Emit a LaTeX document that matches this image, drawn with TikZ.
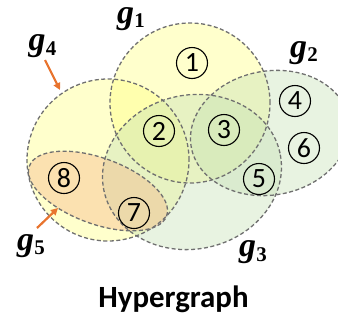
\documentclass[tikz,border=0pt]{standalone}
\usepackage{fontspec}
\newfontfamily\digitfont{Carlito}
\newfontfamily\labelserif{Liberation Serif}
\usetikzlibrary{arrows.meta}

\definecolor{edgegray}{HTML}{707070}
\definecolor{hyperyellow}{HTML}{FFFF80}
\definecolor{hypergreen}{HTML}{C5E0B4}
\definecolor{hyperorange}{HTML}{F4B183}
\definecolor{pointer}{HTML}{E8742E}

% hyperedge name: bold italic g with a bold lowered index
\newcommand{\edgename}[1]{{\labelserif\bfseries\itshape\fontsize{34}{36}\selectfont g}\kern0.5bp\raisebox{-4.5bp}{\labelserif\bfseries\fontsize{21}{22}\selectfont #1}}

\tikzset{
  edgefill/.style={fill=#1, fill opacity=0.4, draw=none},
  edgeline/.style={draw=edgegray, line width=1.3bp, dash pattern=on 4bp off 2.5bp},
  vertex/.style={circle, draw=black, line width=1.1bp, minimum size=31bp, inner sep=0pt,
    font=\digitfont\fontsize{28}{28}\selectfont},
  glabel/.style={inner sep=0pt},
  pointerarrow/.style={draw=pointer, line width=2.2bp, -{Triangle[length=7bp,width=7bp]}},
  titletext/.style={font=\digitfont\bfseries\fontsize{31}{36}\selectfont, inner sep=0pt}
}

\begin{document}
\begin{tikzpicture}[x=1bp,y=-1bp]
\useasboundingbox (0,0) rectangle (338,320);

\begin{scope}
  \clip (0,0) rectangle (338,320);
  % translucent fills of the five hyperedges
  \fill[edgefill=hyperyellow] (108,160) circle [radius=81bp];
  \fill[edgefill=hyperyellow] (190,103) circle [radius=80bp];
  \fill[edgefill=hypergreen, rotate around={10:(270,133)}] (270,133) ellipse [x radius=80bp, y radius=62bp];
  \fill[edgefill=hypergreen, rotate around={12:(192,172)}] (192,172) ellipse [x radius=90bp, y radius=77bp];
  \fill[edgefill=hyperorange, fill opacity=0.38, rotate around={-20:(98,191)}] (98,191) ellipse [x radius=73bp, y radius=33bp];
  % dashed outlines on top
  \draw[edgeline] (108,160) circle [radius=81bp];
  \draw[edgeline] (190,103) circle [radius=80bp];
  \draw[edgeline, rotate around={10:(270,133)}] (270,133) ellipse [x radius=80bp, y radius=62bp];
  \draw[edgeline, rotate around={12:(192,172)}] (192,172) ellipse [x radius=90bp, y radius=77bp];
  \draw[edgeline, rotate around={-20:(98,191)}] (98,191) ellipse [x radius=73bp, y radius=33bp];
\end{scope}

% vertices
\node[vertex] (v1) at (192,63) {1};
\node[vertex] (v2) at (159,131) {2};
\node[vertex] (v3) at (224,130) {3};
\node[vertex] (v4) at (295,101) {4};
\node[vertex] (v5) at (259,179) {5};
\node[vertex] (v6) at (304,148) {6};
\node[vertex] (v7) at (134,213) {7};
\node[vertex] (v8) at (64,178) {8};

% hyperedge labels
\node[glabel] (g1) at (131,19) {\edgename{1}};
\node[glabel] (g2) at (304,53) {\edgename{2}};
\node[glabel] (g3) at (253,252.5) {\edgename{3}};
\node[glabel] (g4) at (42.5,46.5) {\edgename{4}};
\node[glabel] (g5) at (31,246) {\edgename{5}};

% pointers for the two labels that sit away from their hyperedges
\coordinate (g4tip) at (60,90);
\coordinate (g5tip) at (58,208);
\coordinate (g4tail) at (45,60);
\coordinate (g5tail) at (37,228);
\draw[pointerarrow] (g4tail) -- (g4tip);
\draw[pointerarrow] (g5tail) -- (g5tip);

\node[titletext, anchor=base] (title) at (173.5,307) {Hypergraph};
\end{tikzpicture}
\end{document}
